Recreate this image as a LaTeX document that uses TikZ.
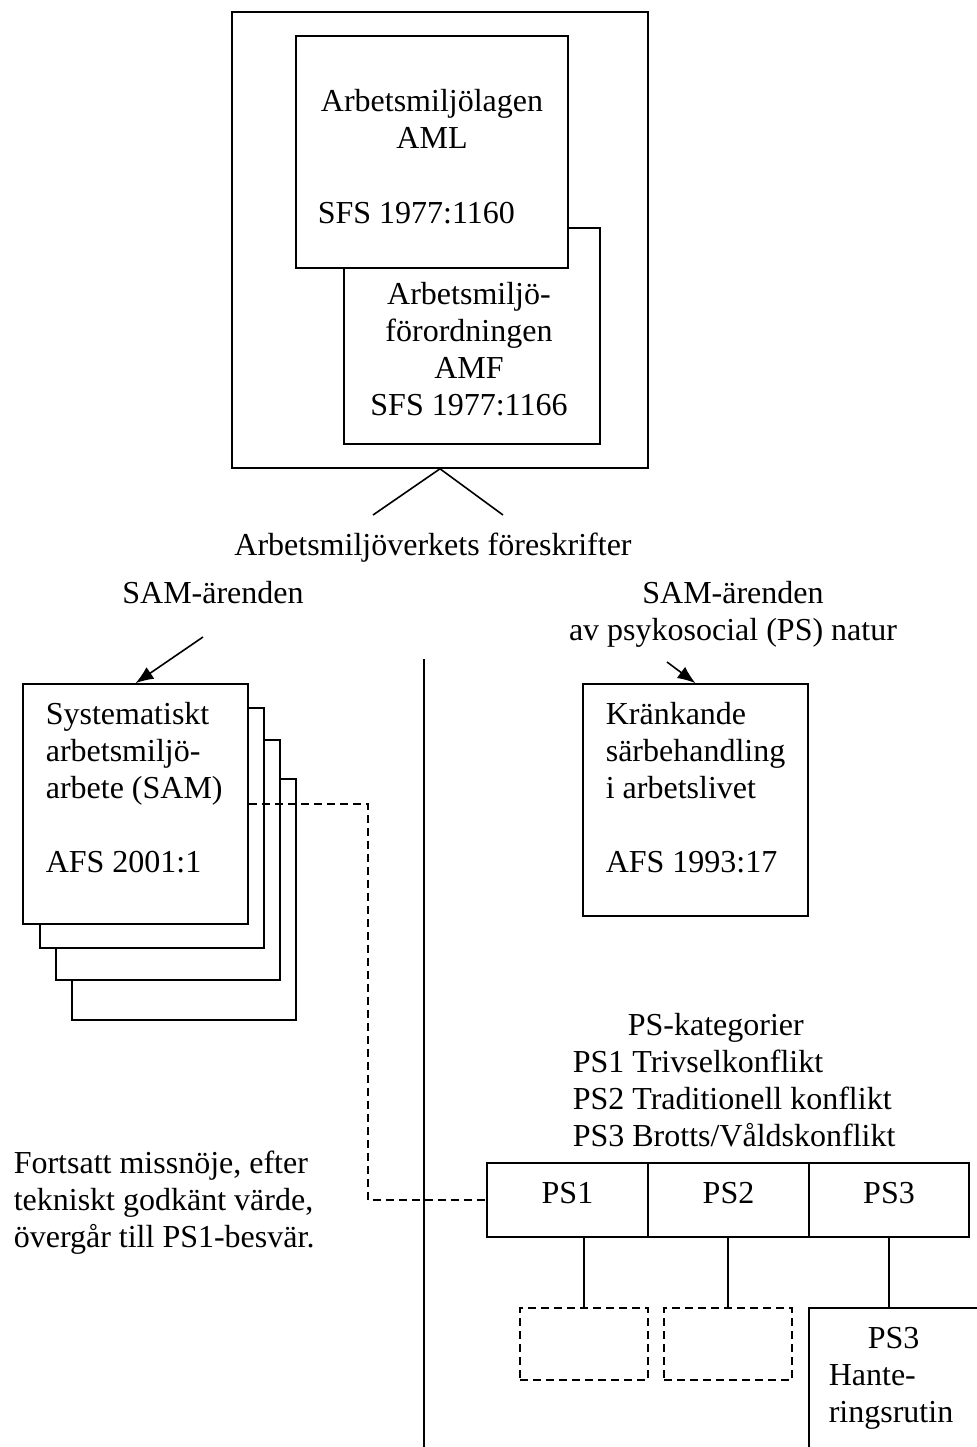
\documentclass[tikz,border=0pt]{standalone}
\usepackage{fontspec}
\setmainfont{Liberation Serif}
\usetikzlibrary{arrows.meta,positioning,fit}

\begin{document}
\begin{tikzpicture}[
  x=0.5pt, y=-0.5pt,
  >={Latex[length=9pt,width=7pt]},
  line width=0.8pt,
  box/.style={draw, fill=white, inner sep=0pt, line width=0.8pt},
  dashbox/.style={box, dash pattern=on 4pt off 2.5pt},
  dashline/.style={draw, dash pattern=on 4pt off 2.5pt},
  txt/.style={font=\fontsize{16}{18.5}\selectfont, inner sep=0pt, align=left},
  ctxt/.style={txt, align=center},
  pslabel/.style={box, font=\fontsize{16}{18.5}\selectfont, text depth=6.8pt,
    minimum height=37pt}
]
  \useasboundingbox (0,0) rectangle (977,1447);
  \clip (0,0) rectangle (977,1447);

  % Lag och förordning
  \node[box, fit={(232,12) (648,468)}] (lag) {};
  \node[box, fit={(344,228) (600,444)}] (amf) {};
  \node[box, fit={(296,36) (568,268)}] (aml) {};
  \node[ctxt, anchor=base] (amltxt) at (432,148) {Arbetsmiljölagen\\AML};
  \node[txt, anchor=base west] (amlsfs) at (317,223) {SFS 1977:1160};
  \node[ctxt, anchor=base] (amftxt) at (469,415)
    {Arbetsmiljö-\\förordningen\\AMF\\SFS 1977:1166};

  \coordinate (fsk1) at (373,515);
  \coordinate (fsk2) at (503,515);
  \draw (fsk1) -- (lag.south) -- (fsk2);
  \node[ctxt, anchor=base] (fsk) at (433,555) {Arbetsmiljöverkets föreskrifter};

  \node[ctxt, anchor=base] (samrub) at (213,603) {SAM-ärenden};
  \node[ctxt, anchor=base] (psrub) at (733,640) {SAM-ärenden\\av psykosocial (PS) natur};

  % SAM-pärmar
  \node[box, fit={(72,779) (296,1020)}] (sam4) {};
  \node[box, fit={(56,740) (280,980)}] (sam3) {};
  \node[box, fit={(40,708) (264,948)}] (sam2) {};
  \node[box, fit={(23,684) (248,924)}] (sam) {};
  \node[txt, anchor=base west] (samtxt) at (45,872)
    {Systematiskt\\arbetsmiljö-\\arbete (SAM)\\[18.5pt]AFS 2001:1};

  \node[box, fit={(583,684) (808,916)}] (kr) {};
  \node[txt, anchor=base west] (krtxt) at (605,872)
    {Kränkande\\särbehandling\\i arbetslivet\\[18.5pt]AFS 1993:17};

  \coordinate (samfrom) at (203,637);
  \coordinate (psfrom) at (667,662);
  \draw[->] (samfrom) -- (sam.north);
  \draw[->] (psfrom) -- (kr.north);

  % Mittlinje
  \coordinate (divtop) at (424,659);
  \coordinate (divbot) at (424,1447);
  \draw (divtop) -- (divbot);

  % PS-kategorier
  \node[txt, anchor=base west] (pskat) at (572,1146)
    {\hspace*{27.5pt}PS-kategorier\\PS1 Trivselkonflikt\\PS2 Traditionell konflikt\\PS3 Brotts/Våldskonflikt};
  \node[pslabel, minimum width=80.5pt] (ps1) at (567.5,1200) {PS1};
  \node[pslabel, minimum width=80.5pt] (ps2) at (728.5,1200) {PS2};
  \node[pslabel, minimum width=80pt] (ps3) at (889,1200) {PS3};

  \coordinate (knick) at (368,1000);
  \draw[dashline] (sam.east) -| (knick) |- (ps1.west);

  \node[dashbox, fit={(520,1308) (648,1380)}] (d1) {};
  \node[dashbox, fit={(664,1308) (792,1380)}] (d2) {};
  \node[box, fit={(809,1308) (1000,1470)}] (hant) {};
  \node[txt, anchor=base west] (hanttxt) at (828,1422)
    {\hspace*{19.5pt}PS3\\Hante-\\ringsrutin};
  \draw (d1.north) -- (d1.north |- ps1.south);
  \draw (d2.north) -- (d2.north |- ps2.south);
  \draw (ps3.south) -- (ps3.south |- hant.north);

  \node[txt, anchor=base west] (note) at (13,1247)
    {Fortsatt missnöje, efter\\tekniskt godkänt värde,\\övergår till PS1-besvär.};

\end{tikzpicture}
\end{document}
